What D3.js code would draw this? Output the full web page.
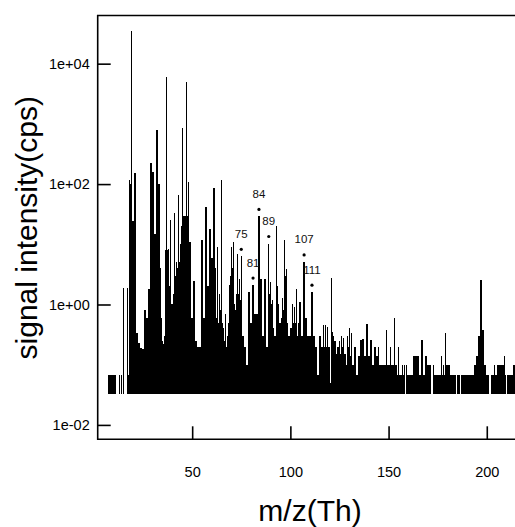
<!DOCTYPE html>
<html>
<head>
<meta charset="utf-8">
<script src="https://cdn.jsdelivr.net/npm/d3@7"></script>
<style>
  body { margin: 0; background: #fff; }
  text { font-family: "Liberation Sans", Arial, sans-serif; }
</style>
</head>
<body>
<script>
// spectrum: intensity at each integer m/z (starting at mzStart) and in the gap after it
const mzStart = 7;
const peakCps = [
  0, 0.067, 0.067, 0.067, 0.067, 0, 0.067, 0.067, 1.9, 0,
  1.9, 118, 35000, 24, 150, 0.34, 0.23, 0.19, 0.18, 0.8,
  0.6, 1.8, 220, 160, 15, 800, 100, 4, 0.25, 0.3,
  6000, 8.5, 25, 1.0, 33, 5, 65, 10, 850, 30,
  5000, 110, 11, 0.6, 2.5, 0.25, 0.2, 0.2, 12, 0.6,
  42, 2, 18, 6, 85, 4, 9, 1.5, 115, 0.4,
  0.7, 0.3, 2.1, 9, 11, 0.8, 7, 2.7, 6.3, 0.3,
  0.2, 0.1, 1.6, 0.5, 2.1, 0.7, 0.7, 29, 2.7, 0.3,
  2.7, 0.2, 10.3, 2.4, 1.2, 0.3, 20, 1.0, 0.5, 1.3,
  12, 3.9, 0.3, 0.4, 1.0, 0.9, 1.8, 0.5, 1.1, 0.3,
  5.1, 0.6, 0.3, 0.3, 1.6, 0.3, 0.2, 0.067, 0.3, 0.2,
  0.45, 0.45, 0.42, 0.2, 2.8, 0.3, 0.25, 0.2, 0.25, 0.3,
  0.28, 0.15, 0.3, 0.4, 0.33, 0.1, 0.2, 0.067, 0.14, 0.26,
  0.27, 0.14, 0.47, 0.14, 0.26, 0.1, 0.2, 0.14, 0.2, 0.1,
  0.1, 0.1, 0.38, 0.1, 0.2, 0.1, 0.6, 0.1, 0.2, 0.067,
  0.1, 0.1, 0.1, 0.067, 0.067, 0.067, 0.14, 0.14, 0.14, 0.067,
  0.26, 0.067, 0.14, 0.1, 0.1, 0, 0.1, 0.067, 0.067, 0.067,
  0.14, 0.1, 0.33, 0.1, 0.1, 0.067, 0.067, 0.067, 0.067, 0.067,
  0.067, 0.067, 0.067, 0.067, 0.067, 0.067, 0.067, 0.1, 0.14, 0.3,
  2.6, 0.38, 0.1, 0.067, 0.067, 0, 0.067, 0.1, 0.067, 0.1,
  0.1, 0.1, 0.14, 0, 0.067, 0.067, 0.067, 0.1, 0.1, 0.067
];
const valleyCps = [
  0.067, 0.067, 0.067, 0.067, 0, 0, 0, 0, 0, 0,
  0.067, 100, 24, 24, 3, 0.28, 0.2, 0.18, 0.18, 0.5,
  1.0, 150, 150, 40, 30, 100, 4, 0.6, 0.22, 8,
  8, 2, 1.0, 1.5, 3, 4, 5, 20, 30, 30,
  30, 8, 0.6, 1.5, 0.3, 0.18, 0.15, 0.4, 1.0, 0.8,
  1.5, 1.5, 2, 0.8, 1.0, 0.6, 0.5, 0.8, 0.5, 0.25,
  0.2, 0.5, 3, 4, 1.0, 1.5, 1.5, 1.2, 0.3, 0.2,
  0.1, 0.5, 0.3, 0.3, 0.6, 0.5, 1.5, 1.0, 0.4, 0.4,
  0.2, 0.5, 1.5, 1.0, 0.4, 0.3, 2, 0.5, 0.6, 0.8,
  3, 0.5, 0.3, 0.4, 0.5, 0.5, 0.3, 0.4, 0.3, 0.8,
  0.8, 0.3, 0.1, 0.3, 0.3, 0.2, 0.1, 0.15, 0.15, 0.15,
  0.2, 0.2, 0.2, 0.05, 0.35, 0.25, 0.15, 0.2, 0.15, 0.2,
  0.15, 0.1, 0.2, 0.14, 0.1, 0.1, 0.067, 0.067, 0.1, 0.12,
  0.14, 0.14, 0.14, 0.1, 0.1, 0.14, 0.14, 0.14, 0.1, 0.1,
  0.1, 0.1, 0.1, 0.1, 0.1, 0.1, 0.1, 0.067, 0.067, 0.067,
  0.067, 0, 0.067, 0.067, 0.067, 0.067, 0.067, 0.067, 0.067, 0.067,
  0.067, 0.1, 0.1, 0.1, 0.1, 0.067, 0.067, 0.067, 0.067, 0.067,
  0.067, 0.067, 0.1, 0.1, 0.067, 0.067, 0.067, 0, 0.067, 0,
  0.067, 0, 0.067, 0.067, 0, 0.067, 0.1, 0.1, 0.1, 1.7,
  0.4, 0.1, 0.067, 0.067, 0, 0.067, 0.067, 0.067, 0.1, 0.1,
  0.1, 0.1, 0.067, 0.067, 0.067, 0.067, 0.1, 0.1, 0.067, 0.067
];
const labelledMz = [75, 81, 84, 89, 107, 111];
const xTicks = [50, 100, 150, 200];
const yTicks = [1e-2, 1e0, 1e2, 1e4];
const baseCps = 0.0326;

const width = 515, height = 527;
const frame = { left: 97.7, top: 15.5, bottom: 439.3 };
const halfPeak = 0.37; // half width of a peak, in Th

const svg = d3.select("body").append("svg")
  .attr("width", width)
  .attr("height", height);

// Scales
const x = d3.scaleLinear().domain([1.9, 230]).range([frame.left, 545.7]);
const y = d3.scaleLog().domain([Math.pow(10, -2.239), Math.pow(10, 4.8)]).range([frame.bottom, frame.top]);

// step outline: peak occupies m ± halfPeak, gap value fills the rest
const points = [];
peakCps.forEach((v, i) => {
  const m = mzStart + i;
  points.push({ mz: m - halfPeak, cps: v });
  points.push({ mz: m + halfPeak, cps: valleyCps[i] });
});
points.push({ mz: mzStart + peakCps.length - halfPeak, cps: 0 });

const area = d3.area()
  .x(d => x(d.mz))
  .y0(y(baseCps))
  .y1(d => y(Math.max(d.cps, baseCps)))
  .curve(d3.curveStepAfter);

svg.append("path")
  .datum(points)
  .attr("d", area)
  .attr("fill", "#000")
  .attr("shape-rendering", "crispEdges");

// labelled peaks
const marks = svg.append("g");
labelledMz.forEach(m => {
  const py = y(peakCps[m - mzStart]) - 7;
  marks.append("circle")
    .attr("cx", x(m)).attr("cy", py).attr("r", 1.6).attr("fill", "#000");
  marks.append("text")
    .attr("x", x(m)).attr("y", py - 11.4)
    .attr("text-anchor", "middle")
    .attr("font-size", "11.5px")
    .attr("fill", "#111")
    .text(m);
});

// Axes (ticks point inward)
const fmt = v => {
  const e = Math.round(Math.log10(v));
  return "1e" + (e < 0 ? "-" : "+") + String(Math.abs(e)).padStart(2, "0");
};

const yAxis = svg.append("g")
  .attr("transform", `translate(${frame.left},0)`)
  .call(d3.axisLeft(y).tickValues(yTicks).tickFormat(fmt).tickSize(-13).tickPadding(8));

const xAxis = svg.append("g")
  .attr("transform", `translate(0,${frame.bottom})`)
  .call(d3.axisBottom(x).tickValues(xTicks).tickFormat(d3.format("d")).tickSize(-13).tickPadding(27));

[yAxis, xAxis].forEach(g => {
  g.select(".domain").remove();
  g.selectAll("line").attr("stroke", "#000").attr("stroke-width", 1.6);
  g.selectAll("text").attr("font-size", "14.5px").attr("fill", "#000")
    .style("font-family", '"Liberation Sans", Arial, sans-serif');
});

// frame (right side runs past the picture edge)
svg.append("path")
  .attr("d", `M600,${frame.top}H${frame.left}V${frame.bottom}H600`)
  .attr("fill", "none")
  .attr("stroke", "#000")
  .attr("stroke-width", 1.6);

// Axis titles
svg.append("text")
  .attr("transform", "translate(37,227.7) rotate(-90)")
  .attr("text-anchor", "middle")
  .attr("font-size", "30px")
  .text("signal intensity(cps)");

svg.append("text")
  .attr("x", 310)
  .attr("y", 521)
  .attr("text-anchor", "middle")
  .attr("font-size", "30px")
  .text("m/z(Th)");
</script>
</body>
</html>
